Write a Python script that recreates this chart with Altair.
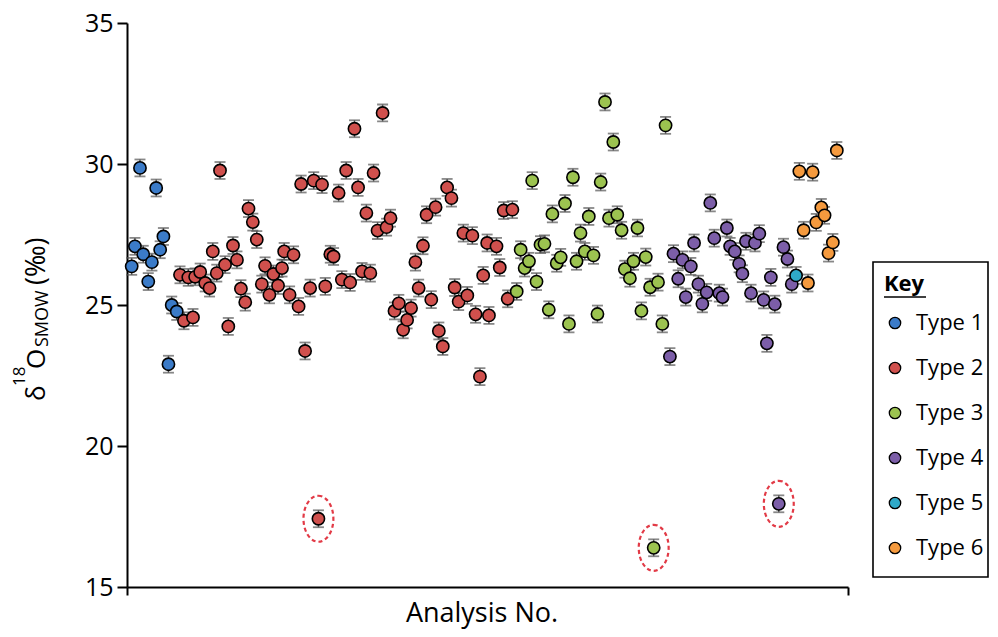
import altair as alt
import pandas as pd

# ---- data ----
TYPES = ["Type 1", "Type 2", "Type 3", "Type 4", "Type 5", "Type 6"]
COLORS = ["#3b7bc8", "#d0504d", "#9cc350", "#7c5ea8", "#2fa9c8", "#f59a3e"]

T1_X = [1.3, 2.2, 3.6, 4.5, 5.9, 6.9, 8.1, 9.2, 10.1, 11.5, 12.4, 13.8]
T1_Y = [26.37, 27.08, 29.86, 26.8, 25.83, 26.52, 29.15, 26.96, 27.43, 22.9, 25.0, 24.77]

T2_X = [14.7, 15.8, 17.0, 18.3, 18.9, 20.3, 21.7, 22.9, 23.8, 24.9, 25.8, 27.2, 28.1, 29.4,
        30.5, 31.6, 32.8, 33.7, 34.9, 36.0, 37.4, 38.3, 39.5, 40.6, 41.9, 43.0, 43.6, 45.1,
        46.2, 47.6, 48.3, 49.4, 50.8, 51.8, 53.1, 54.1, 55.0, 56.4, 57.3, 58.7, 59.6, 60.8,
        61.9, 63.1, 64.1, 65.2, 66.4, 67.5, 68.4, 69.5, 70.9, 72.0, 73.1, 74.2, 75.4, 76.6,
        77.7, 78.8, 80.0, 80.9, 82.1, 83.1, 84.4, 85.6, 86.5, 87.6, 88.8, 90.0, 90.9, 92.0,
        93.3, 94.4, 95.8, 96.7, 97.9, 98.8, 99.9, 100.4, 102.5, 103.4, 104.5, 105.6, 106.9]
T2_Y = [26.07, 24.44, 25.98, 24.56, 26.0, 26.17, 25.78, 25.6, 26.9, 26.13, 29.77, 26.43, 24.24, 27.11,
        26.6, 25.58, 25.1, 28.42, 27.94, 27.32, 25.74, 26.39, 25.36, 26.1, 25.69, 26.31, 26.9, 25.36,
        26.78, 24.95, 29.29, 23.37, 25.6, 29.41, 17.42, 29.27, 25.66, 26.8, 26.72, 28.97, 25.9, 29.77,
        25.8, 31.25, 29.17, 26.19, 28.26, 26.13, 29.68, 27.64, 31.81, 27.76, 28.08, 24.79, 25.06, 24.12,
        24.47, 24.89, 26.52, 25.6, 27.1, 28.2, 25.19, 28.47, 24.08, 23.53, 29.17, 28.79, 25.62, 25.12,
        27.55, 25.34, 27.46, 24.67, 22.46, 26.05, 27.2, 24.63, 27.08, 26.33, 28.35, 25.22, 28.38]

T3_X = [108.1, 109.2, 110.3, 111.5, 112.4, 113.6, 114.7, 115.8, 117.0, 118.0, 119.2, 120.3, 121.5,
        122.6, 123.7, 124.7, 125.8, 127.0, 128.1, 129.4, 130.5, 131.4, 132.6, 133.7, 134.9, 136.0,
        137.2, 138.1, 139.5, 140.5, 141.6, 142.7, 143.9, 145.1, 146.1, 147.3, 148.5, 149.4]
T3_Y = [25.48, 26.96, 26.31, 26.55, 29.41, 25.83, 27.14, 27.17, 24.83, 28.23, 26.48, 26.69, 28.6,
        24.33, 29.53, 26.55, 27.55, 26.9, 28.14, 26.76, 24.68, 29.36, 32.2, 28.08, 30.78, 28.2,
        27.65, 26.27, 25.95, 26.55, 27.73, 24.79, 26.7, 25.63, 16.39, 25.81, 24.33, 31.37]

T4_X = [150.6, 151.6, 152.9, 154.1, 155.0, 156.4, 157.3, 158.5, 159.6, 160.8, 161.8, 162.9, 164.3,
        165.2, 166.4, 167.3, 168.6, 169.8, 170.7, 171.7, 173.1, 174.2, 175.4, 176.6, 177.5, 178.6,
        179.7, 180.8, 182.1, 183.2, 184.4]
T4_Y = [23.17, 26.82, 25.93, 26.6, 25.28, 26.37, 27.2, 25.74, 25.04, 25.45, 28.62, 27.37, 25.42,
        25.28, 27.73, 27.08, 26.9, 26.46, 26.11, 27.26, 25.42, 27.2, 27.53, 25.18, 23.64, 25.98,
        25.03, 17.95, 27.05, 26.63, 25.74]

T5_X = [185.6]
T5_Y = [26.05]

T6_X = [186.5, 187.7, 188.9, 190.2, 191.2, 192.6, 193.5, 194.6, 195.8, 196.9]
T6_Y = [29.74, 27.65, 25.78, 29.71, 27.93, 28.46, 28.18, 26.84, 27.22, 30.48]

ERR = 0.3          # analytical uncertainty (±)
OUTLIER_MAX = 20   # circled anomalous analyses fall below this value

rows = []
for t, xs_, ys_ in zip(TYPES, [T1_X, T2_X, T3_X, T4_X, T5_X, T6_X],
                       [T1_Y, T2_Y, T3_Y, T4_Y, T5_Y, T6_Y]):
    for x, y in zip(xs_, ys_):
        rows.append({"n": x, "d18O": y, "type": t, "lo": y - ERR, "hi": y + ERR})
df = pd.DataFrame(rows)

FONT = "Open Sans"
W, H = 721, 564
ERRC = "#555555"

xs = alt.X("n:Q", scale=alt.Scale(domain=[0, 200], nice=False),
           axis=alt.Axis(values=[0, 200], labels=False, title=None, grid=False,
                         tickSize=8, tickWidth=2, domainWidth=2,
                         domainColor="black", tickColor="black"))
ys = alt.Y("d18O:Q", scale=alt.Scale(domain=[15, 35], nice=False, zero=False),
           axis=alt.Axis(values=[15, 20, 25, 30, 35], title=None, grid=False,
                         tickSize=10, tickWidth=2, domainWidth=2, labelPadding=4,
                         labelFont=FONT, labelFontSize=25, labelColor="black",
                         domainColor="black", tickColor="black"))

base = alt.Chart(df)

err_rule = base.mark_rule(color=ERRC, strokeWidth=1.5).encode(x=xs, y=ys, y2="hi:Q")
err_rule_lo = base.mark_rule(color=ERRC, strokeWidth=1.5).encode(
    x="n:Q", y="lo:Q", y2="d18O:Q")
cap_hi = base.mark_tick(color=ERRC, thickness=1.8, size=11, orient="horizontal").encode(
    x="n:Q", y="hi:Q")
cap_lo = base.mark_tick(color=ERRC, thickness=1.8, size=11, orient="horizontal").encode(
    x="n:Q", y="lo:Q")

points = base.mark_point(filled=True, size=150, stroke="black", strokeWidth=1.6,
                         opacity=1).encode(
    x="n:Q", y="d18O:Q",
    fill=alt.Fill("type:N",
                  scale=alt.Scale(domain=TYPES, range=COLORS),
                  legend=alt.Legend(title="Key", orient="none", legendX=757, legendY=251,
                                    padding=0, titleFont=FONT, titleFontSize=22,
                                    titleFontWeight="bold", titleColor="black",
                                    titlePadding=16, labelFont=FONT, labelFontSize=22,
                                    labelColor="black", labelOffset=10,
                                    symbolType="circle", symbolSize=130,
                                    symbolStrokeColor="black", symbolStrokeWidth=1.3,
                                    rowPadding=23)))

ELLIPSE = ("M 0,-1 C 0.359,-1 0.65,-0.552 0.65,0 C 0.65,0.552 0.359,1 0,1 "
           "C -0.359,1 -0.65,0.552 -0.65,0 C -0.65,-0.552 -0.359,-1 0,-1 Z")
rings = base.transform_filter(alt.datum.d18O < OUTLIER_MAX).mark_point(
    shape=ELLIPSE, size=2116, filled=False, stroke="#e23a46", strokeWidth=2.2,
    strokeDash=[4, 3], opacity=1).encode(x="n:Q", y="d18O:Q")

one = alt.Chart(pd.DataFrame({"k": [0]}))

# legend frame and underlined "Key"
frame = one.mark_rect(fill="white", stroke="black", strokeWidth=1.6).encode(
    x=alt.value(746), x2=alt.value(861), y=alt.value(239), y2=alt.value(554))
underline = one.mark_rule(color="black", strokeWidth=1.6).encode(
    x=alt.value(757), x2=alt.value(799), y=alt.value(274))

# y-axis title  δ18O_SMOW (‰)
def ytxt(t, x, y, size):
    return one.mark_text(text=t, angle=270, align="left", baseline="alphabetic",
                         font=FONT, fontSize=size, color="black").encode(
        x=alt.value(x), y=alt.value(y))

ytitle = [ytxt("δ", -82, 378, 26), ytxt("18", -102, 363, 17), ytxt("O", -82, 346, 26),
          ytxt("SMOW", -79, 324, 18), ytxt("(‰)", -82, 262, 27)]

xtitle = one.mark_text(text="Analysis No.", align="center", baseline="alphabetic",
                       font=FONT, fontSize=27, color="black").encode(
    x=alt.value(355), y=alt.value(599))

chart = alt.layer(frame, underline, err_rule, err_rule_lo, cap_hi, cap_lo, points, rings,
                  *ytitle, xtitle).properties(
    width=W, height=H,
    padding={"left": 119, "top": 15, "right": 142, "bottom": 42},
    autosize=alt.AutoSizeParams(type="none"),
).configure_view(stroke=None, strokeWidth=0)

chart.save("out.html", embed_options={"renderer": "svg", "actions": False})
